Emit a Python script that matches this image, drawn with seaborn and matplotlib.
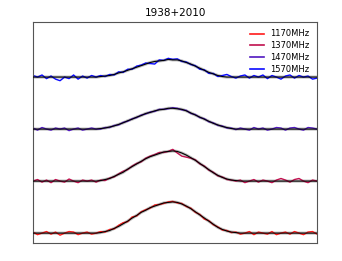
import numpy as np
import pandas as pd
import seaborn as sns
import matplotlib.pyplot as plt

freqs = ['1170MHz', '1370MHz', '1470MHz', '1570MHz']
colors = ['#ff1a1a', '#c0104e', '#5018c0', '#0a0aff']
bins = np.arange(64)

# observed profiles (normalised, before stacking)
data_1170 = [0.02, -0.03, 0.00, 0.03, -0.02, 0.02, -0.04, 0.00, 0.03, 0.02, -0.03, 0.00, 0.02, -0.02, 0.00,
             0.03, 0.02, 0.07, 0.08, 0.15, 0.20, 0.22, 0.31, 0.33, 0.41, 0.45, 0.48, 0.54, 0.55, 0.57,
             0.60, 0.61, 0.58, 0.57, 0.51, 0.48, 0.40, 0.36, 0.27, 0.24, 0.16, 0.12, 0.06, 0.05, 0.01, 0.02,
             -0.02, 0.00, 0.03, -0.03, 0.02, 0.00, -0.02, 0.03, -0.03, 0.00, 0.02, -0.02, 0.03, 0.00, -0.03, 0.02, 0.03, -0.02]
data_1370 = [0.00, 0.03, -0.02, 0.02, -0.03, 0.03, 0.00, -0.02, 0.04, 0.00, -0.03, 0.02, 0.00, 0.02, -0.02,
             0.02, 0.01, 0.06, 0.08, 0.14, 0.19, 0.22, 0.29, 0.34, 0.37, 0.44, 0.48, 0.51, 0.55, 0.55,
             0.57, 0.61, 0.54, 0.48, 0.46, 0.44, 0.41, 0.33, 0.29, 0.21, 0.17, 0.10, 0.08, 0.03, 0.02, 0.00,
             0.02, -0.03, 0.00, 0.03, -0.02, 0.02, 0.00, -0.03, 0.02, 0.05, 0.02, -0.02, 0.03, 0.05, 0.00, -0.03, 0.02, 0.00]
data_1470 = [0.02, -0.02, 0.03, 0.00, -0.02, 0.02, 0.00, 0.02, -0.03, 0.00, 0.02, -0.02, 0.00, 0.02, 0.00,
             0.00, 0.03, 0.03, 0.07, 0.08, 0.13, 0.15, 0.20, 0.22, 0.27, 0.29, 0.33, 0.34, 0.38, 0.38,
             0.39, 0.41, 0.40, 0.37, 0.36, 0.30, 0.28, 0.22, 0.20, 0.14, 0.12, 0.07, 0.06, 0.02, 0.02, -0.01,
             0.02, 0.00, -0.02, 0.03, 0.00, 0.02, -0.02, 0.00, 0.03, 0.02, -0.02, 0.02, 0.03, 0.00, -0.02, 0.03, 0.02, 0.00]
data_1570 = [0.03, 0.00, 0.04, -0.03, 0.02, -0.04, -0.07, 0.00, -0.03, 0.04, -0.04, 0.02, -0.02, 0.03, 0.00,
             0.03, 0.01, 0.05, 0.04, 0.10, 0.09, 0.15, 0.15, 0.21, 0.23, 0.27, 0.26, 0.25, 0.33, 0.32,
             0.36, 0.34, 0.35, 0.30, 0.29, 0.24, 0.22, 0.15, 0.14, 0.07, 0.07, 0.01, 0.03, 0.05, 0.01, -0.02,
             0.02, 0.04, -0.02, 0.03, 0.00, 0.04, -0.03, 0.03, 0.00, -0.04, 0.02, 0.04, -0.02, 0.03, 0.00, 0.02, -0.04, -0.02]

# template fits
model_1170 = [0.0] * 15 + [0.01, 0.03, 0.05, 0.09, 0.13, 0.18, 0.23, 0.29, 0.34, 0.40, 0.44, 0.49, 0.52, 0.55, 0.58,
                           0.59, 0.60, 0.59, 0.56, 0.52, 0.47, 0.41, 0.35, 0.29, 0.23, 0.17, 0.11, 0.07, 0.04, 0.02, 0.01] + [0.0] * 18
model_1370 = [0.0] * 15 + [0.01, 0.03, 0.05, 0.09, 0.13, 0.17, 0.23, 0.28, 0.33, 0.38, 0.43, 0.47, 0.50, 0.53, 0.56,
                           0.57, 0.58, 0.57, 0.54, 0.50, 0.45, 0.40, 0.34, 0.28, 0.22, 0.16, 0.11, 0.07, 0.04, 0.02, 0.01] + [0.0] * 18
model_1470 = [0.0] * 15 + [0.01, 0.02, 0.04, 0.06, 0.09, 0.12, 0.16, 0.19, 0.23, 0.26, 0.30, 0.32, 0.35, 0.37, 0.38,
                           0.40, 0.40, 0.39, 0.38, 0.35, 0.31, 0.27, 0.23, 0.19, 0.15, 0.11, 0.08, 0.05, 0.03, 0.01, 0.0] + [0.0] * 18
model_1570 = [0.0] * 15 + [0.01, 0.02, 0.03, 0.05, 0.08, 0.10, 0.13, 0.16, 0.19, 0.22, 0.25, 0.28, 0.30, 0.31, 0.32,
                           0.34, 0.33, 0.33, 0.31, 0.28, 0.25, 0.21, 0.17, 0.13, 0.09, 0.06, 0.03, 0.01, 0.0, 0.0, 0.0] + [0.0] * 18

datas = [data_1170, data_1370, data_1470, data_1570]
models = [model_1170, model_1370, model_1470, model_1570]

rows = []
for i, (f, d, m) in enumerate(zip(freqs, datas, models)):
    for b, dv, mv in zip(bins, d, m):
        rows.append({'bin': b, 'freq': f, 'data': dv + i, 'model': mv + i})
df = pd.DataFrame(rows)

fig = plt.figure(figsize=(3.42, 2.61), dpi=100)
ax = fig.add_axes([0.0965, 0.069, 0.8305, 0.847])

# data first so the legend only sees these
sns.lineplot(data=df, x='bin', y='data', hue='freq', palette=colors, lw=1.0, ax=ax, zorder=2)
handles, labels = ax.get_legend_handles_labels()

for f in freqs:
    sub = df[df['freq'] == f]
    sns.lineplot(data=sub, x='bin', y='model', color='#bbbbbb', lw=2.2, ax=ax, zorder=1, legend=False)
    sns.lineplot(data=sub, x='bin', y='model', color='black', lw=0.8, ax=ax, zorder=3, legend=False)

ax.set_xlim(0, 63)
ax.set_ylim(-0.19, 4.06)
ax.set_xticks([])
ax.set_yticks([])
ax.set_xlabel('')
ax.set_ylabel('')
for s in ax.spines.values():
    s.set_color('#555555')
    s.set_linewidth(0.8)
ax.set_title('1938+2010', fontsize=7.5, pad=4)
leg = ax.legend(handles, labels, loc='upper right', fontsize=6, frameon=False, handlelength=1.6, labelspacing=0.35)
for h in leg.get_lines():
    h.set_linewidth(1.2)

fig.savefig('out.png', dpi=100)
